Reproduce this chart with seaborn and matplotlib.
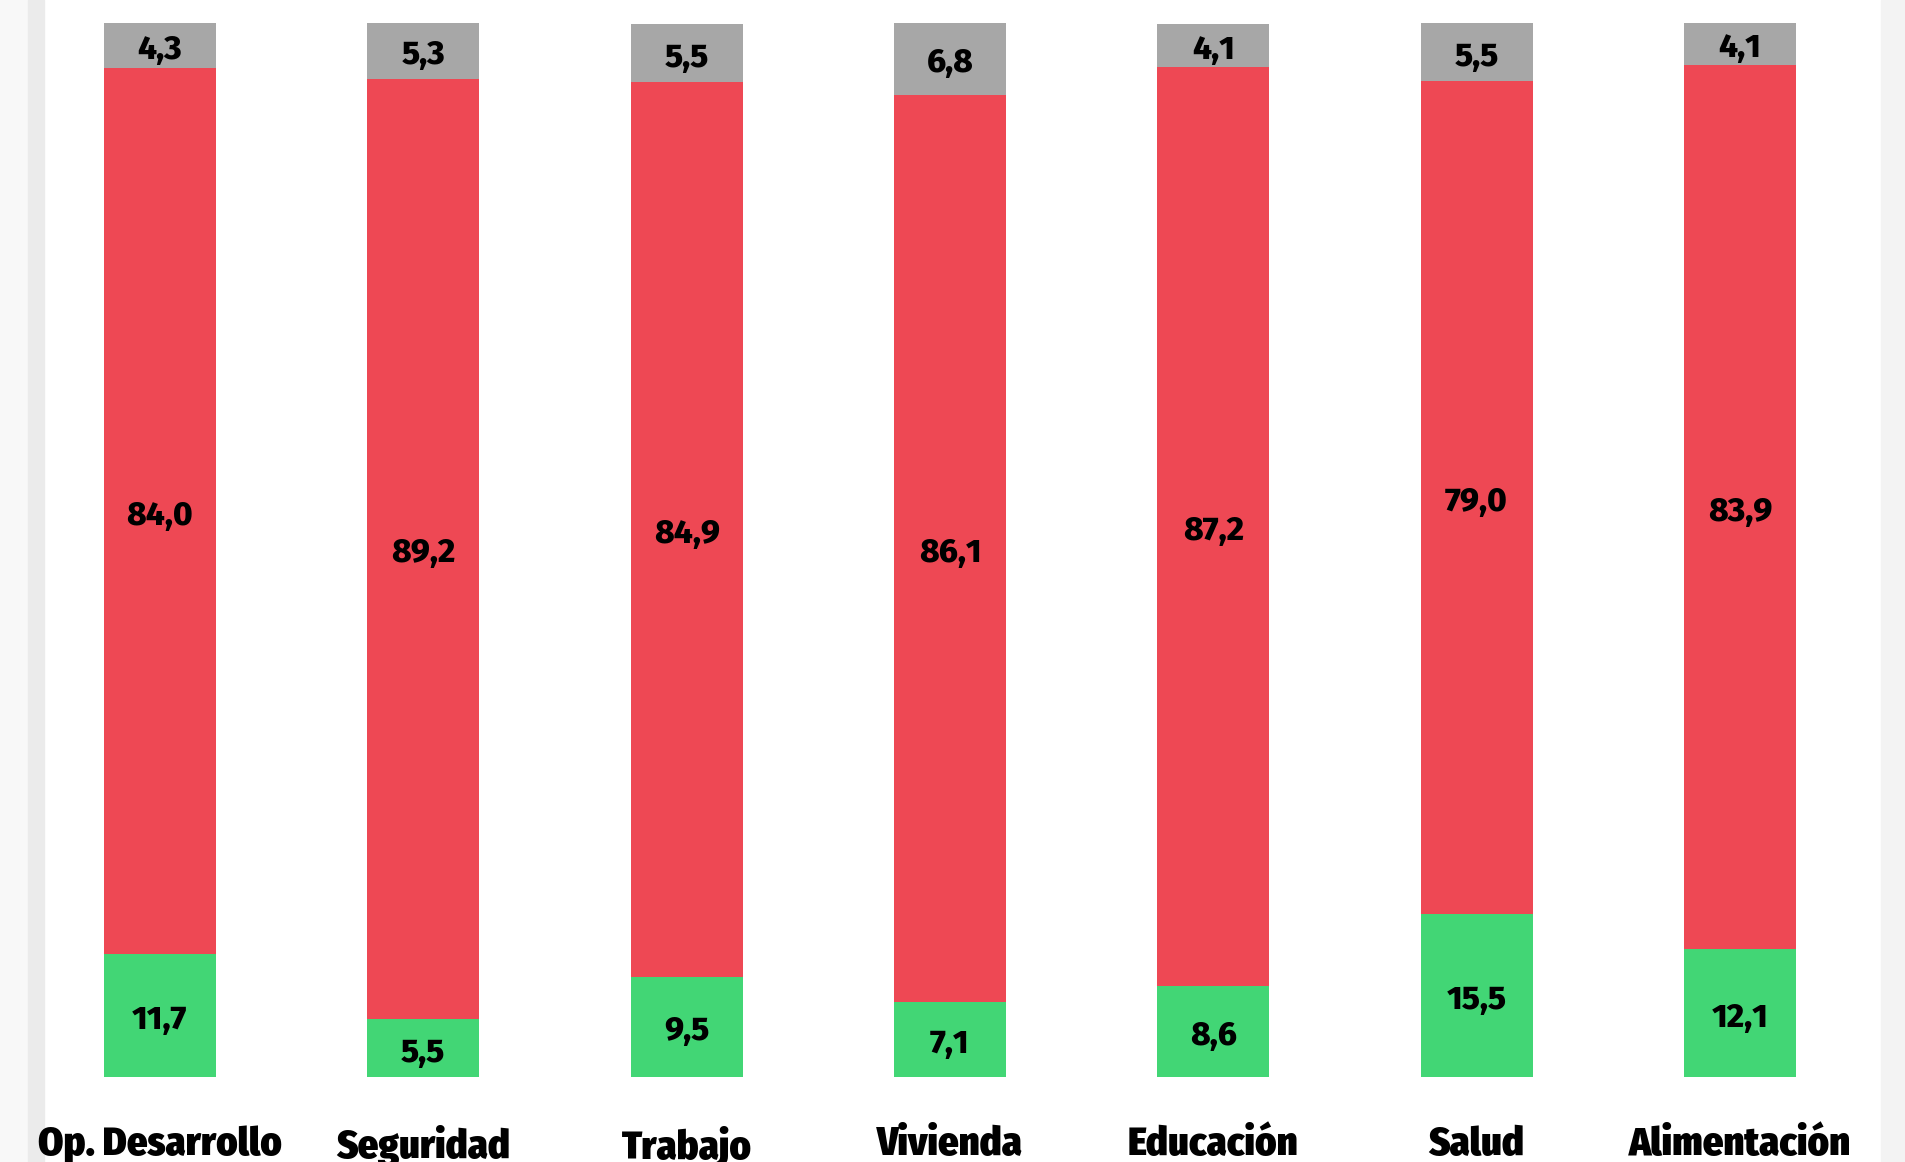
import seaborn as sns
import matplotlib.pyplot as plt
import pandas as pd
from matplotlib.patches import Rectangle

categorias = ["Op. Desarrollo", "Seguridad", "Trabajo", "Vivienda",
              "Educación", "Salud", "Alimentación"]
positivo = [11.7, 5.5, 9.5, 7.1, 8.6, 15.5, 12.1]
negativo = [84.0, 89.2, 84.9, 86.1, 87.2, 79.0, 83.9]
ns_nc = [4.3, 5.3, 5.5, 6.8, 4.1, 5.5, 4.1]

VERDE = "#42d675"
ROJO = "#ee4854"
GRIS = "#a7a7a7"

df = pd.DataFrame({"cat": categorias, "pos": positivo,
                   "neg": negativo, "ns": ns_nc})
df["acum_neg"] = df["pos"] + df["neg"]
df["total"] = df["acum_neg"] + df["ns"]

sns.set_style("white")

W, H = 1905, 1162
fig = plt.figure(figsize=(W / 100, H / 100), dpi=100)

# franjas laterales grises
fig.patches.append(Rectangle((0, 0), 28 / W, 1, transform=fig.transFigure,
                             color="#f8f8f8", zorder=-2))
fig.patches.append(Rectangle((28 / W, 0), 16 / W, 1, transform=fig.transFigure,
                             color="#ebebeb", zorder=-2))
fig.patches.append(Rectangle((1881 / W, 0), 24 / W, 1, transform=fig.transFigure,
                             color="#f3f3f3", zorder=-2))

ax = fig.add_axes([28.3 / W, 85 / H, 1843.4 / W, 1054 / H])
ax.patch.set_alpha(0)

# barras apiladas: se dibujan los acumulados de mayor a menor
sns.barplot(data=df, x="cat", y="total", color=GRIS, width=0.425,
            saturation=1, ax=ax, linewidth=0)
sns.barplot(data=df, x="cat", y="acum_neg", color=ROJO, width=0.425,
            saturation=1, ax=ax, linewidth=0)
sns.barplot(data=df, x="cat", y="pos", color=VERDE, width=0.425,
            saturation=1, ax=ax, linewidth=0)

ax.set_xlim(-0.5, len(categorias) - 0.5)
ax.set_ylim(0, 100)

def fmt(v):
    return f"{v:.1f}".replace(".", ",")

for i, row in df.iterrows():
    for base, val in [(0, row["pos"]), (row["pos"], row["neg"]),
                      (row["acum_neg"], row["ns"])]:
        ax.annotate(fmt(val), (i, base + val / 2), xytext=(0, -3.5),
                    textcoords="offset points", ha="center", va="center",
                    fontsize=24, fontweight=800, family="Fira Sans",
                    color="black")

ax.set_xlabel("")
ax.set_ylabel("")
ax.set_yticks([])
ax.tick_params(axis="x", length=0, pad=35)
for lbl in ax.get_xticklabels():
    lbl.set_fontfamily("Fira Sans Condensed")
    lbl.set_fontweight(900)
    lbl.set_fontsize(29)
    lbl.set_color("black")
sns.despine(ax=ax, left=True, bottom=True)

fig.savefig("out.png", dpi=100)
